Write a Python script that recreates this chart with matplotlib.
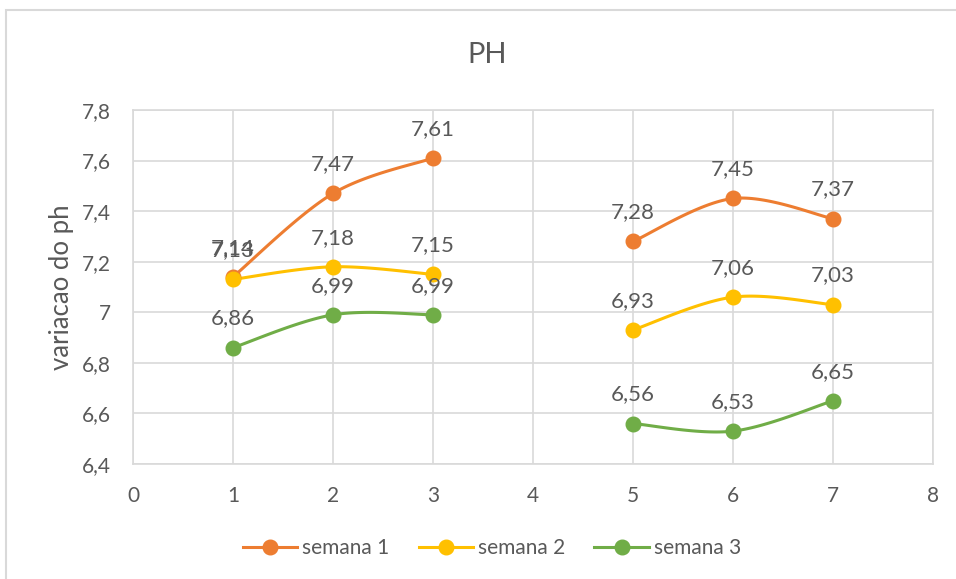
import numpy as np
import matplotlib
matplotlib.use("Agg")
import matplotlib.pyplot as plt
from matplotlib.ticker import FuncFormatter, MultipleLocator
from matplotlib.lines import Line2D

# dados (x = 4 sem medição)
dias = [1, 2, 3, 4, 5, 6, 7]
semana1 = [7.14, 7.47, 7.61, np.nan, 7.28, 7.45, 7.37]
semana2 = [7.13, 7.18, 7.15, np.nan, 6.93, 7.06, 7.03]
semana3 = [6.86, 6.99, 6.99, np.nan, 6.56, 6.53, 6.65]
series = [("semana 1", semana1, "#ED7D31"),
          ("semana 2", semana2, "#FFC000"),
          ("semana 3", semana3, "#70AD47")]

plt.rcParams["font.family"] = ["Lato", "DejaVu Sans"]
TXT = "#595959"
GRID = "#D9D9D9"


def _virgula(v, pos=None):
    return ("%g" % v).replace(".", ",")


def _suave(xs, ys, n=40):
    """curva suavizada tipo Excel (Catmull-Rom / Bezier) por trecho contínuo."""
    xs = np.asarray(xs, float); ys = np.asarray(ys, float)
    p = np.column_stack([xs, ys])
    p = np.vstack([p[0], p, p[-1]])
    t = np.linspace(0, 1, n)[:, None]
    out = []
    for i in range(1, len(p) - 2):
        p0, p1, p2, p3 = p[i - 1], p[i], p[i + 1], p[i + 2]
        c1 = p1 + (p2 - p0) / 6.0
        c2 = p2 - (p3 - p1) / 6.0
        seg = ((1 - t) ** 3) * p1 + 3 * ((1 - t) ** 2) * t * c1 + 3 * (1 - t) * t ** 2 * c2 + t ** 3 * p2
        out.append(seg)
    s = np.vstack(out)
    return s[:, 0], s[:, 1]


fig = plt.figure(figsize=(9.56, 5.79), dpi=100)
# moldura do gráfico
fig.patches.append(plt.Rectangle((6 / 956, -0.1), 1.2, 1 - 10 / 579 + 0.1, transform=fig.transFigure,
                                 fill=False, edgecolor=GRID, lw=1.5))
ax = fig.add_axes([133 / 956, 1 - 464 / 579, 800 / 956, 354 / 579])

x = np.array(dias, float)
for nome, vals, cor in series:
    y = np.array(vals, float)
    ok = ~np.isnan(y)
    # quebra em trechos contínuos
    idx = np.where(ok)[0]
    grupos = np.split(idx, np.where(np.diff(idx) > 1)[0] + 1)
    for g in grupos:
        sx, sy = _suave(x[g], y[g])
        ax.plot(sx, sy, color=cor, lw=2.2, solid_capstyle="round", zorder=3)
    ax.plot(x[ok], y[ok], "o", color=cor, ms=10.5, zorder=4)
    for xi, yi in zip(x[ok], y[ok]):
        ax.annotate(("%.2f" % yi).replace(".", ","), (xi, yi), xytext=(0, 21), textcoords="offset points",
                    ha="center", va="center", fontsize=16, color=TXT, zorder=5)

ax.set_xlim(0, 8); ax.set_ylim(6.4, 7.8)
ax.xaxis.set_major_locator(MultipleLocator(1))
ax.yaxis.set_major_locator(MultipleLocator(0.2))
ax.yaxis.set_major_formatter(FuncFormatter(_virgula))
ax.xaxis.set_major_formatter(FuncFormatter(_virgula))
ax.grid(True, color=GRID, lw=1.2, zorder=0)
ax.set_axisbelow(True)
for s in ax.spines.values():
    s.set_color(GRID); s.set_linewidth(1.2)
ax.tick_params(length=0, labelsize=15, labelcolor=TXT, pad=16)

ax.set_ylabel("variacao do ph", fontsize=18.5, color=TXT, va="center")
ax.yaxis.set_label_coords(-0.089, 0.5)
fig.text(487 / 956, 1 - 55 / 579, "PH", ha="center", va="center", fontsize=21, color=TXT)

handles = [Line2D([], [], color=c, lw=2.2, marker="o", ms=10.5) for _, _, c in series]
fig.legend(handles, [n for n, _, _ in series], loc="center", bbox_to_anchor=(492 / 956, 1 - 548 / 579),
           ncol=3, frameon=False, fontsize=15, labelcolor=TXT, handlelength=2.6,
           handletextpad=0.25, columnspacing=1.4)

fig.savefig("out.png", dpi=100)
